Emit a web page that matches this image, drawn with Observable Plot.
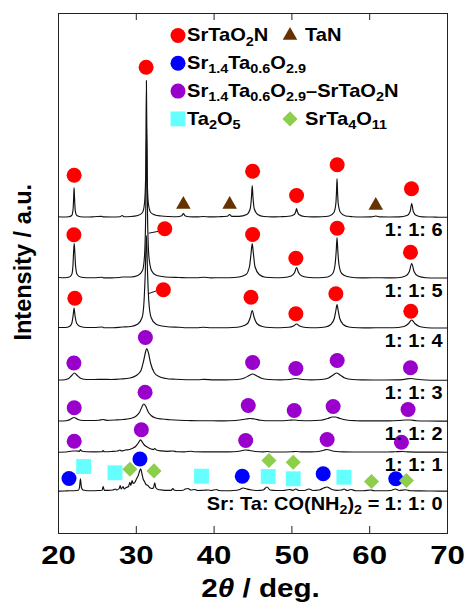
<!DOCTYPE html>
<html><head><meta charset="utf-8">
<script src="https://cdn.jsdelivr.net/npm/d3@7"></script>
<script src="https://cdn.jsdelivr.net/npm/@observablehq/plot@0.6"></script>
<style>body{margin:0;background:#fff}#chart{width:470px;height:604px}</style>
</head><body><div id="chart"></div>
<script>
// ---------- data (2θ in degrees, intensity in a.u. above each pattern's own baseline) ----------
const xTicks = [20, 30, 40, 50, 60, 70];
const sampleLabels = ["1: 1: 6", "1: 1: 5", "1: 1: 4", "1: 1: 3", "1: 1: 2", "1: 1: 1", "Sr: Ta: CO(NH{2}){2} = 1: 1: 0"];
const offsets = [316, 255, 205, 153, 112, 81, 42];

const pattern116 = [[20,0.8],[20.6,0.5],[21.3,0.8],[21.7,2],[21.87,8],[21.95,20],[22.0,30],[22.06,20],[22.15,7],[22.35,2],[22.8,0.8],[23.6,0.5],[24.6,0.8],[25.6,1.2],[25.7,0.6],[26.8,0.5],[27.9,0.8],[28.2,2],[28.4,0.8],[29.3,1],[30.2,2],[30.8,5],[31.05,14],[31.2,40],[31.3,137],[31.4,40],[31.55,14],[31.85,5],[32.4,2.5],[33.2,1.5],[34.2,1],[35.2,0.8],[35.85,1.8],[36.05,4],[36.25,1.8],[36.8,0.8],[37.8,0.6],[38.6,1],[39.5,0.6],[40.6,0.8],[41.7,1.2],[42.0,3],[42.25,1.2],[43.2,1.2],[44.2,3],[44.65,9],[44.8,20],[44.9,32],[45.0,20],[45.15,9],[45.6,3],[46.4,1],[47.5,0.6],[48.5,0.8],[49.6,1.2],[50.3,3],[50.5,6],[50.6,9],[50.7,6],[50.9,3],[51.6,1],[52.6,0.6],[53.8,0.8],[54.8,1.5],[55.4,5],[55.65,14],[55.73,25],[55.8,39],[55.87,25],[55.95,14],[56.25,5],[56.9,1.5],[57.8,0.8],[59,0.5],[60.2,0.6],[60.8,1.5],[61.3,0.6],[62.5,0.5],[63.8,0.6],[64.8,2],[65.2,6],[65.4,14],[65.6,6],[66.0,2],[66.8,0.6],[68,0.5],[69,0.3],[70,0.3]];
const pattern115 = [[20,1],[20.8,0.8],[21.4,1.5],[21.7,4],[21.85,12],[21.95,28],[22.02,35],[22.1,26],[22.2,12],[22.4,4],[22.8,1.5],[23.6,0.8],[24.6,0.8],[25.6,1.3],[25.8,0.6],[26.8,0.6],[27.8,1],[28.3,1.5],[29.3,1.5],[30.2,3],[30.8,8],[31.05,22],[31.2,60],[31.33,150],[31.45,60],[31.62,22],[31.95,8],[32.5,3.5],[33.3,2],[34.3,1.2],[35.5,1],[36.5,0.8],[37.8,0.8],[38.6,1.3],[39.6,0.7],[40.8,0.8],[42,0.8],[43.2,1.5],[44.1,4],[44.55,12],[44.75,25],[44.9,35],[45.05,25],[45.25,12],[45.8,4],[46.6,1.2],[47.8,0.8],[49,1],[49.9,2.5],[50.35,6],[50.6,11],[50.85,6],[51.3,2.5],[52.2,1],[53.5,0.8],[54.6,1.5],[55.25,5],[55.55,14],[55.7,28],[55.8,41],[55.9,28],[56.05,14],[56.4,5],[57.1,2],[58.2,0.8],[59.5,0.6],[60.8,0.8],[62.2,0.6],[63.6,0.8],[64.6,2.5],[65.1,7],[65.4,15],[65.7,7],[66.2,2.5],[67.2,0.8],[68.5,0.5],[70,0.5]];
const pattern114 = [[20,1],[20.9,1],[21.4,2],[21.7,5],[21.88,13],[22.0,20.5],[22.12,13],[22.35,5],[22.8,2],[23.6,1],[24.6,1],[25.6,1.5],[25.8,0.8],[27,0.8],[28.2,1.5],[29.3,2],[30.2,4.5],[30.75,11],[31.0,28],[31.15,55],[31.3,93],[31.45,55],[31.6,28],[31.9,11],[32.5,4.5],[33.3,2.5],[34.3,1.5],[35.5,1.2],[36.5,0.8],[37.8,0.8],[38.6,1.3],[39.6,0.8],[41,0.8],[42.4,1],[43.5,2],[44.3,5],[44.65,11],[44.9,18],[45.15,11],[45.5,5],[46.2,2],[47.2,1],[48.5,0.8],[49.6,1.2],[50.2,2.5],[50.6,4.5],[51.0,2.5],[51.8,1],[53.2,0.8],[54.3,1.5],[55.0,4],[55.45,10],[55.65,18],[55.8,24],[55.95,18],[56.15,10],[56.6,4],[57.3,1.5],[58.5,0.8],[60,0.6],[61.5,0.8],[63,0.8],[64.4,2],[65.0,5],[65.4,8.5],[65.8,5],[66.4,2],[67.4,0.8],[68.5,0.5],[70,0.5]];
const pattern113 = [[20,0.5],[20.8,0.8],[21.3,2],[21.7,5],[22.05,7.5],[22.4,5],[22.9,2],[23.6,1],[24.6,1],[25.6,1.2],[26.8,1],[28,1.5],[29.2,2.5],[30.0,5],[30.6,10],[30.95,20],[31.2,29],[31.35,32],[31.55,28],[31.85,17],[32.3,8],[32.9,4],[33.8,2],[35,1.2],[36.5,0.8],[38,0.8],[38.7,1.2],[40,0.6],[41.5,0.6],[43,1],[43.9,2.5],[44.5,5],[44.95,6.5],[45.4,5],[46.0,2.5],[47,1],[48.5,0.6],[49.7,1],[50.5,2],[51.3,1],[52.5,0.6],[53.8,1],[54.7,2.5],[55.3,5.5],[55.75,7.5],[56.2,5.5],[56.8,2.5],[57.8,1],[59,0.6],[60.5,0.5],[62,0.5],[63.5,0.6],[64.5,1.2],[65.3,2],[66.1,1.2],[67.2,0.5],[68.5,0.3],[70,0.3]];
const pattern112 = [[20,0.5],[21,0.8],[21.5,2],[22.0,4],[22.5,2],[23.2,1],[24.2,1],[25.2,1.2],[25.7,2],[26.2,1.2],[27.3,1.5],[28.3,2],[29.2,3],[29.9,5],[30.4,9],[30.75,15],[30.95,17.5],[31.2,15.5],[31.5,10],[31.9,6],[32.5,3.5],[33.3,2.5],[34.3,1.8],[35.5,1.2],[36.6,1],[38,0.8],[39.2,0.8],[40.5,0.6],[42,0.8],[43.3,1.5],[44.1,2.5],[44.6,3],[45.2,2.5],[46.0,1.3],[47.2,0.8],[48.6,0.8],[49.6,1.2],[50.3,1.5],[51,1],[52.3,0.8],[53.7,1.2],[54.6,3],[55.2,4.5],[55.6,4.5],[56.2,3],[57,1.5],[58.2,0.8],[59.5,0.6],[61,0.6],[62.5,0.6],[63.8,1],[64.6,1.5],[65.2,1.5],[66,0.8],[67.5,0.5],[69,0.4],[70,0.4]];
const pattern111 = [[20,0.3],[21,0.5],[21.8,1.5],[22.3,1.5],[22.7,1.2],[22.82,3],[22.95,1.5],[23.6,0.8],[24.6,0.7],[25.6,0.8],[25.74,2],[25.88,0.8],[26.8,1],[27.6,1.5],[27.9,2.5],[28.1,1.5],[28.6,2.5],[29.0,2.8],[29.3,3.5],[29.6,4.5],[29.9,6],[30.25,9.5],[30.55,12.7],[30.8,10],[31.1,7],[31.5,5],[31.9,3.5],[32.2,3],[32.37,4],[32.6,2.5],[33.2,1.6],[34,1.2],[34.7,1.5],[35.2,0.8],[36.2,0.7],[37.0,1.3],[37.5,0.7],[38.6,0.6],[40,0.6],[41.3,0.6],[42.5,0.8],[43.4,1.5],[44.0,2.5],[44.6,2],[45.3,1],[46.3,0.6],[46.8,1],[47.4,0.5],[48.6,0.5],[50,0.8],[50.5,1],[51.3,0.6],[52.5,0.6],[53.4,1],[54.1,2.3],[54.5,3],[55.0,2],[55.7,1],[56.6,0.6],[57.8,0.5],[59.2,0.5],[60.6,0.5],[62,0.5],[63.3,0.8],[64.2,1],[65,0.6],[66.5,0.4],[68,0.4],[70,0.3]];
const pattern110 = [[20,0.3],[20.8,0.5],[21.4,0.8],[22.0,0.8],[22.55,1.2],[22.7,4],[22.82,12.7],[22.95,4],[23.15,1.5],[23.8,0.8],[24.6,0.8],[25.2,1],[25.6,1.2],[25.74,5],[25.88,1.2],[26.4,1.2],[27.0,1.5],[27.3,2.5],[27.5,1.5],[27.8,3],[27.93,6],[28.05,2.5],[28.3,5],[28.45,2.5],[28.7,4],[29.0,5],[29.17,9.3],[29.3,6],[29.46,11],[29.6,8],[29.8,9],[30.05,13],[30.25,16],[30.45,21],[30.57,22.7],[30.72,18],[30.9,12],[31.05,10],[31.25,7],[31.5,6],[31.7,4],[32.0,3],[32.2,3.5],[32.37,8.7],[32.5,4],[32.8,2],[33.3,1.5],[33.8,1.2],[34.5,1.2],[34.7,3],[34.9,1.2],[35.5,1],[36.0,1.2],[36.3,2.5],[36.65,3],[37.0,1.5],[37.5,2],[37.9,1],[38.6,1.2],[39.3,1.5],[39.6,1],[40.3,2],[40.6,1],[41.5,0.8],[42.5,1],[43.3,2],[43.7,3.5],[44.2,2.5],[44.8,1.5],[45.6,1],[46.3,1.5],[46.8,4.5],[47.2,1.5],[48,1],[48.9,1],[49.7,2],[50.1,1.2],[50.5,2.5],[50.9,1],[51.6,1],[52.2,2.5],[52.7,1],[53.5,1.5],[54.1,3.5],[54.5,4.5],[55.0,2.5],[55.7,1.2],[56.4,1.5],[56.7,2.5],[57.1,1],[57.6,2],[58.2,0.8],[59.2,0.8],[60.1,1.5],[60.6,0.8],[61.7,0.8],[62.7,1],[63.3,2.5],[63.8,1],[64.6,1.8],[65.2,0.8],[66.5,0.6],[68,0.5],[70,0.4]];
const patterns = [pattern116, pattern115, pattern114, pattern113, pattern112, pattern111, pattern110];

// phase markers: [2θ, absolute intensity]
const phaseNames = ["SrTaO{2}N", "TaN", "Sr{1.4}Ta{0.6}O{2.9}", "Sr{1.4}Ta{0.6}O{2.9}–SrTaO{2}N", "Ta{2}O{5}", "SrTa{4}O{11}"];
const phaseColors = ["#ff0000", "#663300", "#0000ff", "#9900cc", "#66ffff", "#8dcf4b"];
const phaseSymbols = ["circle", "triangle", "circle", "circle", "square", "diamond2"];
const mkSrTaO2N = [[22.01,358.3],[31.26,466.3],[44.95,362.3],[50.6,338],[55.82,368.7],[65.37,344.7],
  [21.98,298.7],[33.66,304.7],[44.95,299],[50.51,275.3],[55.82,305.3],[65.24,281.3],
  [22.1,235.3],[33.48,243.7],[44.74,236.3],[50.51,219.7],[55.65,239.7],[65.28,222.3]];
const mkTaN = [[36.05,329],[42.0,329],[60.78,328]];
const mkSr14 = [[21.35,55],[30.47,74.5],[43.62,57.3],[54.02,59.7],[63.35,54.7]];
const mkMixed = [[21.98,170.5],[31.17,196],[44.95,171],[50.51,165],[55.82,173],[65.24,165.8],
  [22.02,125.7],[31.13,141.3],[44.39,128],[50.3,123],[55.3,127],[64.93,124],
  [22.02,92.3],[30.65,103.7],[44.06,93],[54.53,94],[64.08,91.3]];
const mkTa2O5 = [[23.23,67],[27.26,60.7],[38.38,57.3],[46.96,57],[50.17,54.7],[56.68,56.3]];
const mkSrTa4O11 = [[29.18,64.3],[32.28,62.6],[47.05,73],[50.17,71.3],[60.23,52],[64.72,53]];
const phaseMarkers = [mkSrTaO2N, mkTaN, mkSr14, mkMixed, mkTa2O5, mkSrTa4O11];
// leader lines from offset markers to their peaks: [x1, y1, x2, y2]
const leaders = [[32.93,302.3,31.6,300.3],[32.9,243.5,31.5,239.7]];
const legendRows = [[0, 1], [2], [3], [4, 5]];

// ---------- layout ----------
const W = 470, H = 604, mL = 58, mR = 23, mT = 13, mB = 71;
const X0 = 20, X1 = 70, Y0 = 0, Y1 = 520;
const pxX = px => X0 + (px - mL) * (X1 - X0) / (W - mL - mR);
const pxY = py => Y0 + (H - mB - py) * (Y1 - Y0) / (H - mT - mB);
const symR = {circle: 7.5, triangle: 5.4, square: 8.4, diamond2: 6.8};
const FONT = "'Liberation Sans', Arial, Helvetica, sans-serif";

const lineData = patterns.flatMap((p, i) => p.map(([x, y]) => ({trace: i, x, y: y + offsets[i]})));
const legendItems = [];
legendRows.forEach((row, r) => row.forEach((k, c) => legendItems.push({
  k, mx: pxX(c ? 289.5 : 177.5), tx: pxX(c ? 304.5 : 186.5), ly: pxY(35 + r * 27.8)
})));

const marks = [
  Plot.frame({stroke: "#222", strokeWidth: 1}),
  Plot.ruleX(xTicks.slice(1, -1), {x: d => d, y1: Y0, y2: Y0 + 7, stroke: "#222"}),
  Plot.ruleX(xTicks.slice(1, -1), {x: d => d, y1: Y1 - 7, y2: Y1, stroke: "#222"}),
  Plot.line(lineData, {x: "x", y: "y", z: "trace", stroke: "#111", strokeWidth: 1.15, curve: "monotone-x"}),
  Plot.link(leaders, {x1: d => d[0], y1: d => d[1], x2: d => d[2], y2: d => d[3], stroke: "#111", strokeWidth: 1})
];
phaseMarkers.forEach((arr, k) => {
  marks.push(Plot.dot(arr, {x: d => d[0], y: d => d[1], symbol: phaseSymbols[k], r: symR[phaseSymbols[k]], fill: phaseColors[k], stroke: "none"}));
});
legendItems.forEach(it => {
  marks.push(Plot.dot([it], {x: d => d.mx, y: d => d.ly, symbol: phaseSymbols[it.k], r: symR[phaseSymbols[it.k]], fill: phaseColors[it.k], stroke: "none"}));
});
marks.push(
  Plot.text(legendItems, {x: d => d.tx, y: d => d.ly, text: d => phaseNames[d.k], textAnchor: "start", lineAnchor: "middle", fontSize: 18.6, fontWeight: "bold", fill: "#000", ariaDescription: "legendtext"}),
  Plot.text(sampleLabels, {x: X1, y: (d, i) => offsets[i] - 18.5, text: d => d, textAnchor: "end", lineAnchor: "bottom", dx: -5, fontSize: 19, fontWeight: "bold", fill: "#000", ariaDescription: "samplelabel"}),
  Plot.text(xTicks, {x: d => d, frameAnchor: "bottom", dy: 30.5, text: d => String(d), textAnchor: "middle", lineAnchor: "bottom", fontSize: 26, fontWeight: "bold", fill: "#000", ariaDescription: "ticklabel"}),
  Plot.text(["2[θ] / deg."], {frameAnchor: "bottom", dx: 7.5, dy: 63, text: d => d, textAnchor: "middle", lineAnchor: "bottom", fontSize: 26, fontWeight: "bold", fill: "#000", ariaDescription: "xtitle"}),
  Plot.text(["Intensity / a.u."], {frameAnchor: "left", dx: -35.5, dy: -11.3, rotate: -90, text: d => d, textAnchor: "middle", lineAnchor: "middle", fontSize: 23.5, fontWeight: "bold", fill: "#000", ariaDescription: "ytitle"})
);

const chart = Plot.plot({
  width: W, height: H,
  marginLeft: mL, marginRight: mR, marginTop: mT, marginBottom: mB,
  x: {domain: [X0, X1], axis: null},
  y: {domain: [Y0, Y1], axis: null},
  style: {fontFamily: FONT, background: "#fff", overflow: "visible"},
  marks
});
document.getElementById("chart").appendChild(chart);

// ---------- post-processing: subscripts / italics and horizontal widening of the bold font ----------
const NS = "http://www.w3.org/2000/svg";
function richify(el, fs) {
  const s = el.textContent;
  if (!/[{\[]/.test(s)) return;
  const shift = fs * 0.22;
  while (el.firstChild) el.removeChild(el.firstChild);
  let cur = 0;
  for (const m of s.matchAll(/\{([^}]*)\}|\[([^\]]*)\]|([^{\[]+)/g)) {
    const ts = document.createElementNS(NS, "tspan");
    if (m[1] != null) {
      ts.textContent = m[1];
      ts.setAttribute("font-size", (fs * 0.72).toFixed(2));
      if (cur !== shift) ts.setAttribute("dy", (shift - cur).toFixed(2));
      cur = shift;
    } else {
      ts.textContent = m[2] != null ? m[2] : m[3];
      if (m[2] != null) ts.setAttribute("font-style", "italic");
      if (cur) { ts.setAttribute("dy", (-cur).toFixed(2)); cur = 0; }
    }
    el.appendChild(ts);
  }
}
const textSpec = {legendtext: [1.08, 18.6], samplelabel: [1.05, 19], ticklabel: [1.2, 26], xtitle: [1.14, 26], ytitle: [1, 23.5]};
for (const [label, [sx, fs]] of Object.entries(textSpec)) {
  chart.querySelectorAll(`g[aria-description="${label}"] text`).forEach(t => {
    richify(t, fs);
    if (sx !== 1) {
      const len = t.getComputedTextLength();
      if (len > 0) {
        t.setAttribute("textLength", (len * sx).toFixed(2));
        t.setAttribute("lengthAdjust", "spacingAndGlyphs");
      }
    }
  });
}
</script>
</body></html>
